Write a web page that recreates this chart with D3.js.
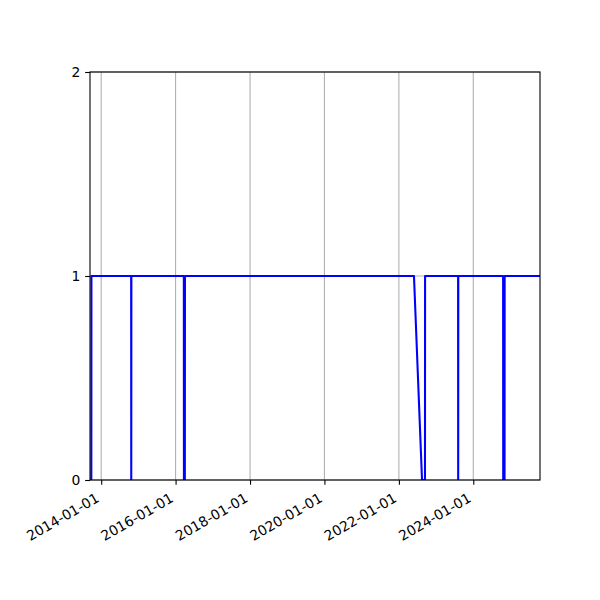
<!DOCTYPE html>
<html>
<head>
<meta charset="utf-8">
<script src="https://cdn.jsdelivr.net/npm/d3@7"></script>
<style>
  html, body { margin: 0; padding: 0; background: #fff; }
  svg { display: block; }
  text { font-family: "DejaVu Sans", sans-serif; font-size: 13.9px; fill: #000; }
</style>
</head>
<body>
<svg id="chart" width="600" height="600"></svg>
<script>
// ---- data ----
const dates = [
  "2013-09-13", "2013-09-26", "2013-09-27",
  "2014-10-22", "2014-10-23", "2014-10-24",
  "2016-03-22", "2016-03-23", "2016-04-01", "2016-04-02",
  "2022-05-29", "2022-08-16", "2022-09-14", "2022-09-15",
  "2023-08-05", "2023-08-06", "2023-08-07",
  "2024-10-20", "2024-10-21", "2024-11-03", "2024-11-04",
  "2025-10-17"
];
const values = [
  0, 0, 1,
  1, 0, 1,
  1, 0, 0, 1,
  1, 0, 0, 1,
  1, 0, 1,
  1, 0, 0, 1,
  1
];
const xTickLabels = ["2014-01-01", "2016-01-01", "2018-01-01", "2020-01-01", "2022-01-01", "2024-01-01"];
const yTickValues = [0, 1, 2];

// ---- layout ----
const mLeft = 90, mRight = 540, mTop = 72, mBottom = 480;
const parse = d3.utcParse("%Y-%m-%d");
const points = dates.map((d, i) => ({ t: parse(d), v: values[i] }));

const x = d3.scaleUtc()
  .domain(d3.extent(points, d => d.t))
  .range([mLeft, mRight]);
const y = d3.scaleLinear().domain([0, 2]).range([mBottom, mTop]);

const svg = d3.select("#chart");
svg.append("rect").attr("width", 600).attr("height", 600).attr("fill", "#fff");

const xTicks = xTickLabels.map(parse);

// grid
const grid = svg.append("g").attr("stroke", "#b0b0b0").attr("stroke-width", 1.1);
grid.selectAll("line.gx").data(xTicks).join("line")
  .attr("x1", d => x(d)).attr("x2", d => x(d))
  .attr("y1", mTop).attr("y2", mBottom);
grid.selectAll("line.gy").data(yTickValues).join("line")
  .attr("x1", mLeft).attr("x2", mRight)
  .attr("y1", d => y(d)).attr("y2", d => y(d));

// clip
svg.append("clipPath").attr("id", "clip")
  .append("rect").attr("x", mLeft).attr("y", mTop).attr("width", mRight - mLeft).attr("height", mBottom - mTop);

// line
const line = d3.line().x(d => x(d.t)).y(d => y(d.v));
svg.append("path")
  .datum(points)
  .attr("clip-path", "url(#clip)")
  .attr("fill", "none")
  .attr("stroke", "#0000ff")
  .attr("stroke-width", 2.08)
  .attr("stroke-linejoin", "round")
  .attr("stroke-linecap", "square")
  .attr("d", line);

// axes
const xAxis = d3.axisBottom(x).tickValues(xTicks).tickSize(4.86).tickPadding(4.86)
  .tickFormat(d3.utcFormat("%Y-%m-%d"));
const gx = svg.append("g").attr("transform", `translate(0,${mBottom})`).call(xAxis);
gx.select(".domain").remove();
gx.selectAll(".tick line").attr("stroke", "#000").attr("stroke-width", 1.1);
gx.selectAll(".tick text")
  .attr("font-family", null).attr("font-size", null)
  .attr("text-anchor", "end")
  .attr("dy", null)
  .attr("y", null)
  .attr("transform", "translate(0,9.7) rotate(-30) translate(-7,8.9)");

const yAxis = d3.axisLeft(y).tickValues(yTickValues).tickSize(4.86).tickPadding(4.86)
  .tickFormat(d3.format("d"));
const gy = svg.append("g").attr("transform", `translate(${mLeft},0)`).call(yAxis);
gy.select(".domain").remove();
gy.selectAll(".tick line").attr("stroke", "#000").attr("stroke-width", 1.1);
gy.selectAll(".tick text").attr("font-family", null).attr("font-size", null)
  .attr("dy", "0.34em");

// spines
svg.append("rect")
  .attr("x", mLeft).attr("y", mTop).attr("width", mRight - mLeft).attr("height", mBottom - mTop)
  .attr("fill", "none").attr("stroke", "#000").attr("stroke-width", 1.1);
</script>
</body>
</html>
